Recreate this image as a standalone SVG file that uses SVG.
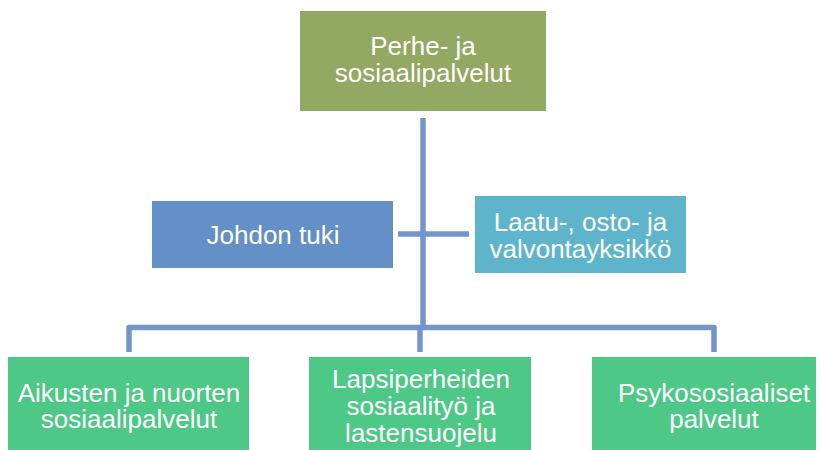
<svg xmlns="http://www.w3.org/2000/svg" width="824" height="450" viewBox="0 0 824 450">
<style>
.t{font-family:"Liberation Sans",Arial,sans-serif;font-size:26px;fill:#fff;text-anchor:middle}
.c{fill:none;stroke:#7395C9;stroke-width:5.5;stroke-linejoin:round}
</style>
<rect width="824" height="450" fill="#fff"/>
<g id="connectors">
<line class="c" x1="423" y1="118" x2="423" y2="328"/>
<line class="c" x1="398" y1="234" x2="469" y2="234"/>
<path class="c" d="M129,352 V327.5 H714 V352"/>
<line class="c" x1="420" y1="327" x2="420" y2="352"/>
</g>
<g id="n_top">
<rect x="300" y="11" width="246" height="100" fill="#93A862"/>
<text class="t" x="423" y="55">Perhe- ja</text>
<text class="t" x="423" y="82">sosiaalipalvelut</text>
</g>
<g id="n_johdon">
<rect x="152" y="201" width="241" height="67" fill="#6390C6"/>
<text class="t" x="273" y="244">Johdon tuki</text>
</g>
<g id="n_laatu">
<rect x="475" y="196" width="211" height="77" fill="#5EB4CB"/>
<text class="t" x="580.5" y="231">Laatu-, osto- ja</text>
<text class="t" x="580.5" y="258">valvontayksikkö</text>
</g>
<g id="n_aikusten">
<rect x="8" y="357" width="241" height="93" fill="#4DC886"/>
<text class="t" x="129" y="401.5">Aikusten ja nuorten</text>
<text class="t" x="129" y="428">sosiaalipalvelut</text>
</g>
<g id="n_lapsi">
<rect x="309" y="357" width="222" height="93" fill="#4DC886"/>
<text class="t" x="421" y="388">Lapsiperheiden</text>
<text class="t" x="421" y="415">sosiaalityö ja</text>
<text class="t" x="421" y="442">lastensuojelu</text>
</g>
<g id="n_psyko">
<rect x="592" y="357" width="224" height="93" fill="#4DC886"/>
<text class="t" x="714" y="401.5">Psykososiaaliset</text>
<text class="t" x="714" y="428">palvelut</text>
</g>
</svg>
